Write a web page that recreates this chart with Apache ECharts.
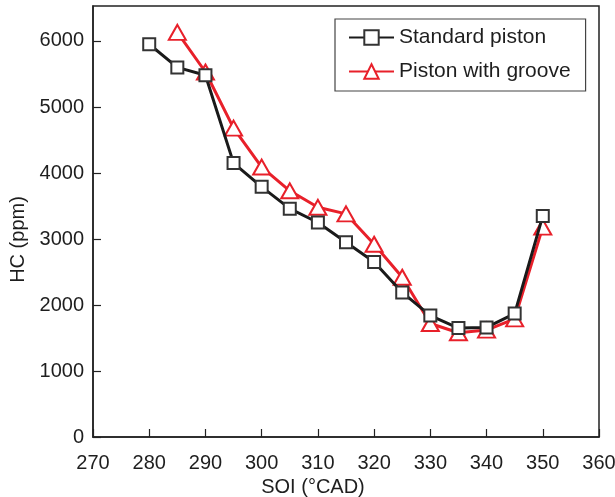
<!DOCTYPE html>
<html>
<head>
<meta charset="utf-8">
<script src="https://cdn.jsdelivr.net/npm/echarts@6/dist/echarts.min.js"></script>
<style>
  html, body { margin: 0; padding: 0; background: #fff; }
  #chart { width: 615px; height: 497px; }
</style>
</head>
<body>
<div id="chart"></div>
<script>
// data
var soiStandard = [280, 285, 290, 295, 300, 305, 310, 315, 320, 325, 330, 335, 340, 345, 350];
var hcStandard = [5950, 5600, 5480, 4150, 3790, 3460, 3250, 2950, 2650, 2190, 1840, 1650, 1660, 1870, 3350];
var soiGroove = [285, 290, 295, 300, 305, 310, 315, 320, 325, 330, 335, 340, 345, 350];
var hcGroove = [6130, 5530, 4680, 4090, 3730, 3480, 3380, 2920, 2420, 1720, 1580, 1620, 1790, 3180];
var seriesNames = ['Standard piston', 'Piston with groove'];

var font = 'Liberation Sans, Arial, Helvetica, sans-serif';

function pairs(xs, ys) {
  return xs.map(function (x, i) { return [x, ys[i]]; });
}

var myChart = echarts.init(document.getElementById('chart'));
var option = {
  backgroundColor: '#ffffff',
  animation: false,
  grid: {
    left: 93, right: 16, top: 6, bottom: 60,
    containLabel: false,
    outerBoundsMode: 'none',
    show: true,
    borderColor: '#222',
    borderWidth: 1.5,
    backgroundColor: 'transparent'
  },
  legend: {
    orient: 'vertical',
    left: 335,
    top: 19,
    width: 251,
    data: seriesNames,
    padding: [8, 15, 9, 13],
    itemWidth: 45,
    itemHeight: 18,
    itemGap: 13,
    borderColor: '#444',
    borderWidth: 1.2,
    textStyle: { fontFamily: font, fontSize: 21, color: '#1e1e1e' }
  },
  xAxis: {
    type: 'value',
    min: 270,
    max: 360,
    interval: 10,
    name: 'SOI (°CAD)',
    nameLocation: 'middle',
    nameGap: 40,
    nameTextStyle: { fontFamily: font, fontSize: 20, color: '#1e1e1e', padding: [0, 66, 0, 0] },
    axisLine: { onZero: false, lineStyle: { color: '#222', width: 1.5 } },
    axisTick: { inside: true, length: 8, lineStyle: { color: '#222', width: 1.2 } },
    axisLabel: { fontFamily: font, fontSize: 20, color: '#1e1e1e', margin: 16, formatter: function (v) { return String(v); } },
    splitLine: { show: false }
  },
  yAxis: {
    type: 'value',
    min: 0,
    max: 6530,
    interval: 1000,
    name: 'HC (ppm)',
    nameLocation: 'middle',
    nameGap: 64,
    nameTextStyle: { fontFamily: font, fontSize: 20, color: '#1e1e1e', padding: [0, 36, 0, 0] },
    axisLine: { show: true, lineStyle: { color: '#222', width: 1.5 } },
    axisTick: { inside: true, length: 8, lineStyle: { color: '#222', width: 1.2 } },
    axisLabel: { fontFamily: font, fontSize: 20, color: '#1e1e1e', margin: 9, showMaxLabel: false, formatter: function (v) { return String(v); } },
    splitLine: { show: false }
  },
  series: [
    {
      name: seriesNames[0],
      type: 'line',
      data: pairs(soiStandard, hcStandard),
      z: 3,
      symbol: 'rect',
      symbolSize: 12,
      lineStyle: { color: '#1a1a1a', width: 3 },
      itemStyle: { color: '#fff', borderColor: '#333', borderWidth: 2 }
    },
    {
      name: seriesNames[1],
      type: 'line',
      data: pairs(soiGroove, hcGroove),
      z: 2,
      symbol: 'triangle',
      symbolSize: [17, 15],
      lineStyle: { color: '#e8202a', width: 3 },
      itemStyle: { color: '#fff', borderColor: '#e8202a', borderWidth: 2 }
    }
  ]
};
myChart.setOption(option);
</script>
</body>
</html>
